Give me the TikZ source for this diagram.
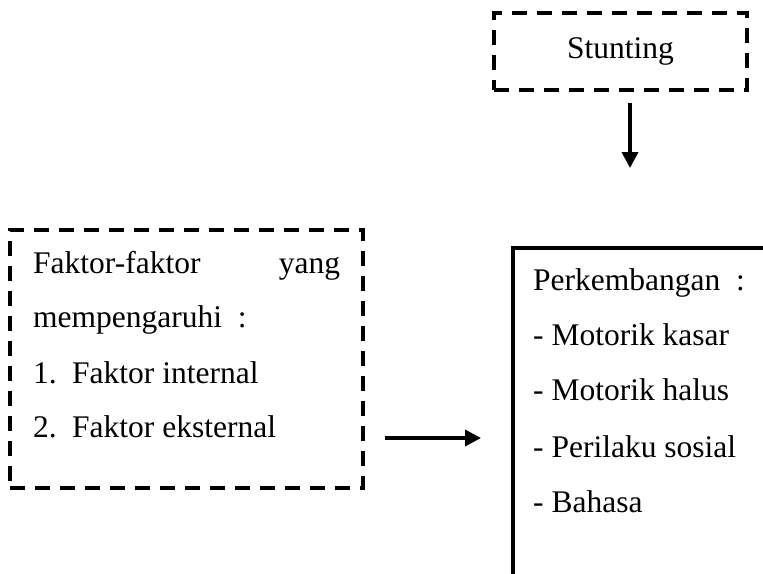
\documentclass[tikz,border=0pt]{standalone}
\usepackage{fontspec}
\setmainfont{Liberation Serif}
\usetikzlibrary{arrows.meta}
\begin{document}
\begin{tikzpicture}[x=1pt,y=-1pt,
  dashbox/.style={draw=black,line width=3.8pt,dash pattern=on 15pt off 10pt,rectangle,inner sep=0pt},
  solidbox/.style={draw=black,line width=3.8pt},
  txt/.style={anchor=base west,inner sep=0pt,font=\fontsize{31.5}{38}\selectfont},
  arr/.style={line width=3.6pt,-{Triangle[width=16pt,length=16pt]}}]
\useasboundingbox (0,0) rectangle (763,573);
\clip (0,0) rectangle (763,573);
% Stunting box
\node[dashbox,minimum width=253pt,minimum height=77pt] (stunting) at (620.5,51.5) {};
\node[anchor=base,inner sep=0pt,font=\fontsize{31.5}{38}\selectfont] (stuntingtxt) at (620.5,58) {Stunting};
% down arrow
\coordinate (d1) at (630,103);
\coordinate (d2) at (630,168);
\draw[arr] (d1) -- (d2);
% left box
\node[dashbox,minimum width=353pt,minimum height=258pt] (faktor) at (186.5,359) {};
\node[txt] (f1) at (33,273) {\makebox[307pt][l]{Faktor-faktor\hfill yang}};
\node[txt] (f2) at (33,327) {mempengaruhi\ \ :};
\node[txt] (f3) at (33,383) {\makebox[39pt][l]{1.}Faktor internal};
\node[txt] (f4) at (33,437) {\makebox[39pt][l]{2.}Faktor eksternal};
% horizontal arrow
\coordinate (h1) at (385,438);
\coordinate (h2) at (481,438);
\draw[arr] (h1) -- (h2);
% right box (extends beyond frame)
\draw[solidbox] (800,248) -- (513,248) -- (513,620);
\node[txt] (p1) at (533,290) {Perkembangan\ \ :};
\node[txt] (p2) at (533,345) {- Motorik kasar};
\node[txt] (p3) at (533,400) {- Motorik halus};
\node[txt] (p4) at (533,457) {- Perilaku sosial};
\node[txt] (p5) at (533,512) {- Bahasa};
\end{tikzpicture}
\end{document}
